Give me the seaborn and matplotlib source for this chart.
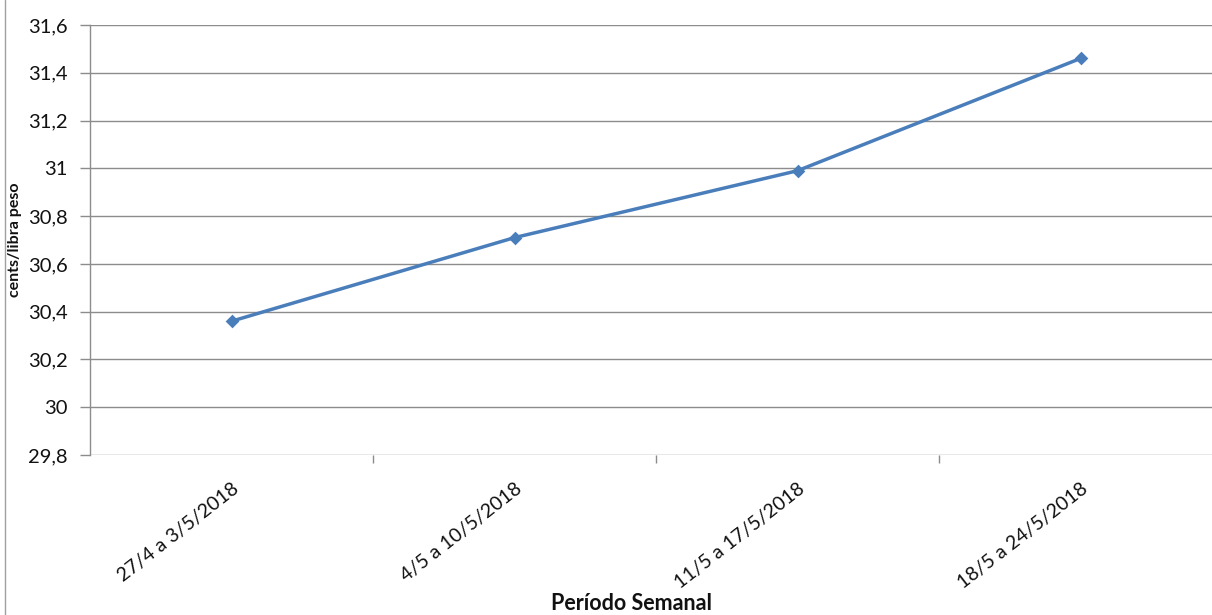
import matplotlib
matplotlib.use("Agg")
import matplotlib.pyplot as plt
import seaborn as sns
from matplotlib.lines import Line2D

periodos = ["27/4 a 3/5/2018", "4/5 a 10/5/2018", "11/5 a 17/5/2018", "18/5 a 24/5/2018"]
precos = [30.36, 30.71, 30.99, 31.46]
y_ticks = [29.8, 30.0, 30.2, 30.4, 30.6, 30.8, 31.0, 31.2, 31.4, 31.6]
y_tick_labels = ["29,8", "30", "30,2", "30,4", "30,6", "30,8", "31", "31,2", "31,4", "31,6"]

sns.set_theme(style="white")
plt.rcParams["font.family"] = ["Lato", "DejaVu Sans"]

W, H = 1212, 615
fig = plt.figure(figsize=(W / 100, H / 100), dpi=100)
left, right, top, bottom = 90, 1222, 25, 455
ax = fig.add_axes([left / W, 1 - bottom / H, (right - left) / W, (bottom - top) / H])

line_color = "#4A7EBB"
sns.pointplot(x=periodos, y=precos, ax=ax, color=line_color, markers="D",
              linestyles="-", linewidth=2.5, markersize=5.5, errorbar=None)

ax.set_xlim(-0.5, len(periodos) - 0.5)
ax.set_ylim(29.8, 31.6)
ax.set_yticks(y_ticks)
ax.set_yticklabels(y_tick_labels, fontsize=14.5, color="#111111")

grid_color = "#8C8C8C"
for y in y_ticks:
    ax.axhline(y, color=grid_color, linewidth=1.0, zorder=0)

# category boundary ticks on the x axis
ax.set_xticks([i + 0.5 for i in range(len(periodos) - 1)], minor=True)
ax.set_xticks(range(len(periodos)))
ax.set_xticklabels(periodos, rotation=38, ha="right", va="top",
                   rotation_mode="anchor", fontsize=14, color="#111111")
ax.tick_params(axis="x", which="major", length=0, pad=18)
ax.tick_params(axis="x", which="minor", length=6, width=1, color=grid_color, direction="out", bottom=True)
ax.tick_params(axis="y", length=7, width=1, color=grid_color, direction="out", left=True, pad=9)

for side in ["top", "right", "bottom"]:
    ax.spines[side].set_visible(False)
ax.spines["left"].set_color(grid_color)
ax.spines["left"].set_linewidth(1.0)

ax.set_xlabel("")
ax.set_ylabel("")
fig.text(15 / W, 1 - 240 / H, "cents/libra peso", rotation=90, fontsize=11.5,
         fontweight="bold", ha="center", va="center", color="#111111")
fig.text(631 / W, 1 - 603 / H, "Período Semanal", fontsize=15.5, fontweight="bold",
         ha="center", va="center", color="#111111")

# outer chart border on the left edge
fig.add_artist(Line2D([4.5 / W, 4.5 / W], [0, 1], transform=fig.transFigure,
                      color="#A0A0A0", linewidth=1.0))

fig.savefig("out.png", dpi=100)
